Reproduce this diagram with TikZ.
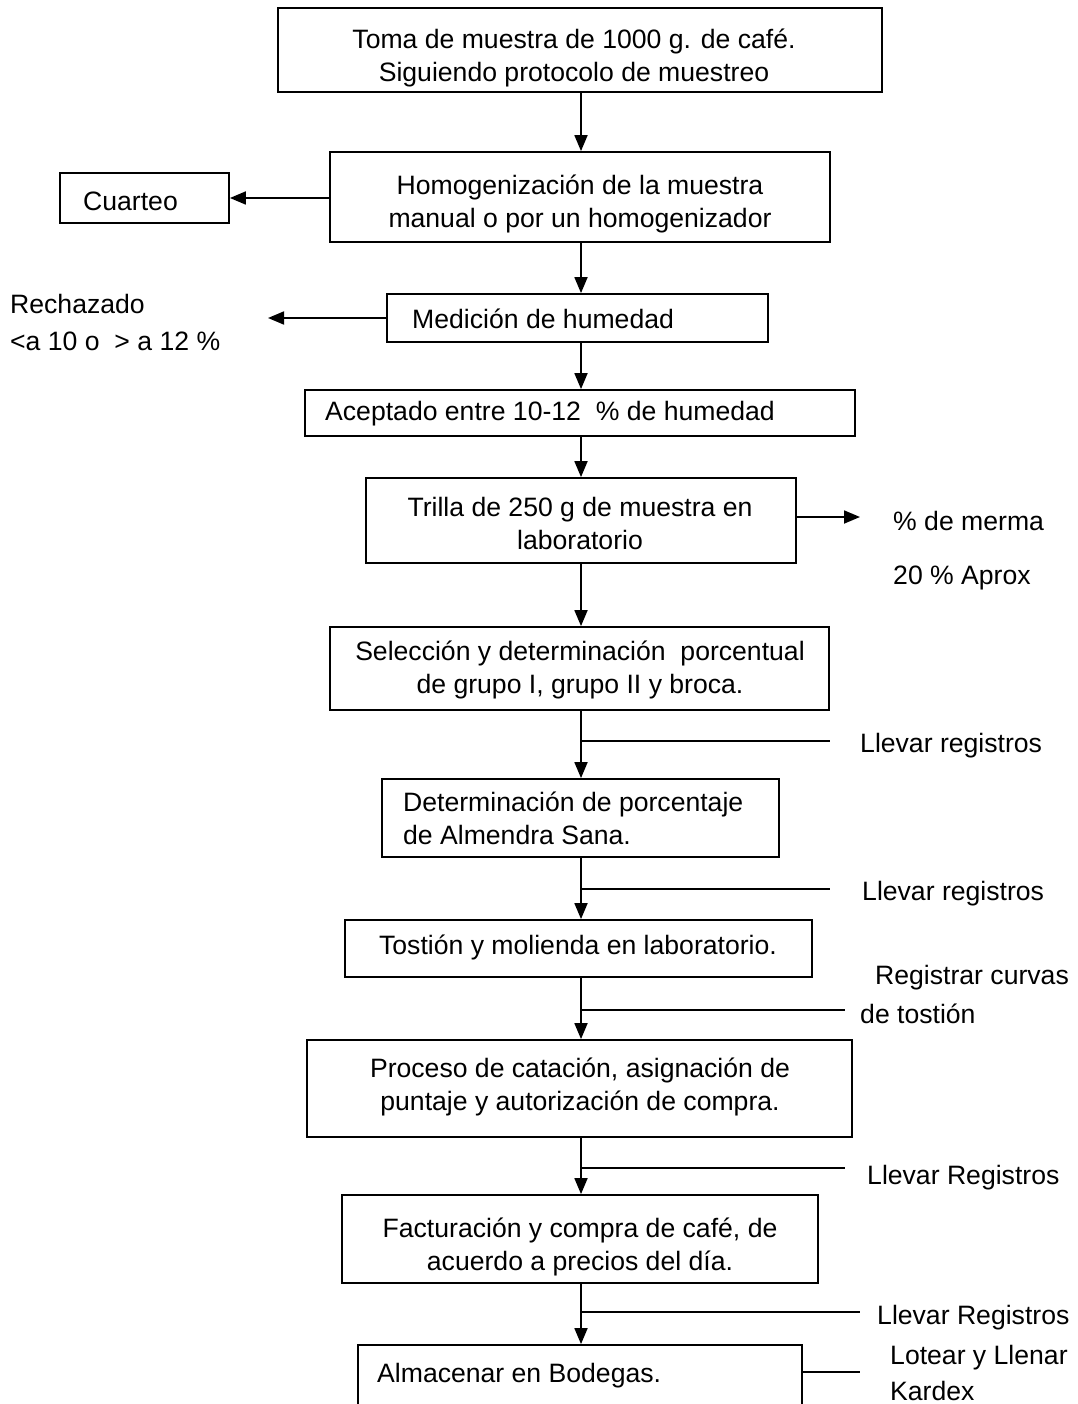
\documentclass[tikz,border=0pt]{standalone}
\usepackage{fontspec}
\setmainfont{Liberation Sans}
\usetikzlibrary{arrows.meta}
\newcommand\flowfont{\fontsize{26.6}{33}\selectfont}
\begin{document}
\begin{tikzpicture}[x=1pt,y=-1pt,
  box/.style={draw, line width=1.8pt, rectangle, inner sep=0pt},
  txt/.style={font=\flowfont, inner sep=0pt, align=center},
  ltxt/.style={font=\flowfont, inner sep=0pt, align=left, anchor=west},
  link/.style={line width=1.8pt},
  arr/.style={line width=1.8pt, -{Triangle[length=16pt,width=13pt]}}]
\useasboundingbox (0,0) rectangle (1077,1404);
\fill[white] (0,0) rectangle (1077,1404);
\clip (0,0) rectangle (1077,1404);

% main column of process boxes
\node[box, minimum width=604, minimum height=84] (b1) at (580,50) {};
\node[box, minimum width=500, minimum height=90] (b2) at (580,197) {};
\node[box, minimum width=169, minimum height=50] (cu) at (144.5,198) {};
\node[box, minimum width=381, minimum height=48] (b3) at (577.5,318) {};
\node[box, minimum width=550, minimum height=46] (b4) at (580,413) {};
\node[box, minimum width=430, minimum height=85] (b5) at (581,520.5) {};
\node[box, minimum width=499, minimum height=83] (b6) at (579.5,668.5) {};
\node[box, minimum width=397, minimum height=78] (b7) at (580.5,818) {};
\node[box, minimum width=467, minimum height=57] (b8) at (578.5,948.5) {};
\node[box, minimum width=545, minimum height=97] (b9) at (579.5,1088.5) {};
\node[box, minimum width=476, minimum height=88] (b10) at (580,1239) {};
\node[box, minimum width=444, minimum height=95] (b11) at (580,1392.5) {};

% box texts
\node[txt] (t1) at (574,58) {Toma de muestra de 1000 g. de café.\\Siguiendo protocolo de muestreo};
\node[txt] (t2) at (580,204) {Homogenización de la muestra\\manual o por un homogenizador};
\node[ltxt] (tcu) at (83,201) {Cuarteo};
\node[ltxt] (t3) at (412,319) {Medición de humedad};
\node[ltxt] (t4) at (325,414) {Aceptado entre 10-12\ \ \% de humedad};
\node[txt] (t5) at (580,523) {Trilla de 250 g de muestra en\\laboratorio};
\node[txt] (t6) at (580,670) {Selección y determinación\ \ porcentual\\de grupo I, grupo II y broca.};
\node[ltxt] (t7) at (403,818) {Determinación de porcentaje\\de Almendra Sana.};
\node[txt] (t8) at (578,947) {Tostión y molienda en laboratorio.};
\node[txt] (t9) at (580,1087) {Proceso de catación, asignación de\\puntaje y autorización de compra.};
\node[txt] (t10) at (580,1247) {Facturación y compra de café, de\\acuerdo a precios del día.};
\node[ltxt] (t11) at (377,1376) {Almacenar en Bodegas.};

% side notes
\node[ltxt] (rej) at (10,322) {Rechazado\\[4pt]<a 10 o\ \ > a 12 \%};
\node[ltxt] (merma) at (893,521) {\% de merma};
\node[ltxt] (aprox) at (893,578) {20 \% Aprox};
\node[ltxt] (reg1) at (860,746) {Llevar registros};
\node[ltxt] (reg2) at (862,894) {Llevar registros};
\node[ltxt] (curv1) at (875,978) {Registrar curvas};
\node[ltxt] (curv2) at (860,1014) {de tostión};
\node[ltxt] (reg3) at (867,1178) {Llevar Registros};
\node[ltxt] (reg4) at (877,1318) {Llevar Registros};
\node[ltxt] (lot1) at (890,1358) {Lotear y Llenar};
\node[ltxt] (lot2) at (890,1391) {Kardex};

% free ends of the side connectors
\coordinate (spine) at (581,0);
\coordinate (rejEnd) at (268,318);
\coordinate (mermaEnd) at (860,517);
\coordinate (j1) at (581,741);  \coordinate (r1) at (830,741);
\coordinate (j2) at (581,889);  \coordinate (r2) at (830,889);
\coordinate (j3) at (581,1010); \coordinate (r3) at (845,1010);
\coordinate (j4) at (581,1168); \coordinate (r4) at (845,1168);
\coordinate (j5) at (581,1312); \coordinate (r5) at (860,1312);
\coordinate (lotEnd) at (860,1372);

% vertical flow
\draw[arr] (b1.south -| spine) -- (b2.north -| spine);
\draw[arr] (b2.south -| spine) -- (b3.north -| spine);
\draw[arr] (b3.south -| spine) -- (b4.north -| spine);
\draw[arr] (b4.south -| spine) -- (b5.north -| spine);
\draw[arr] (b5.south -| spine) -- (b6.north -| spine);
\draw[arr] (b6.south -| spine) -- (b7.north -| spine);
\draw[arr] (b7.south -| spine) -- (b8.north -| spine);
\draw[arr] (b8.south -| spine) -- (b9.north -| spine);
\draw[arr] (b9.south -| spine) -- (b10.north -| spine);
\draw[arr] (b10.south -| spine) -- (b11.north -| spine);

% side connectors
\draw[arr] (b2.west |- cu.east) -- (cu.east);
\draw[arr] (b3.west) -- (rejEnd);
\draw[arr] (b5.east |- mermaEnd) -- (mermaEnd);
\draw[link] (j1) -- (r1);
\draw[link] (j2) -- (r2);
\draw[link] (j3) -- (r3);
\draw[link] (j4) -- (r4);
\draw[link] (j5) -- (r5);
\draw[link] (b11.east |- lotEnd) -- (lotEnd);
\end{tikzpicture}
\end{document}
